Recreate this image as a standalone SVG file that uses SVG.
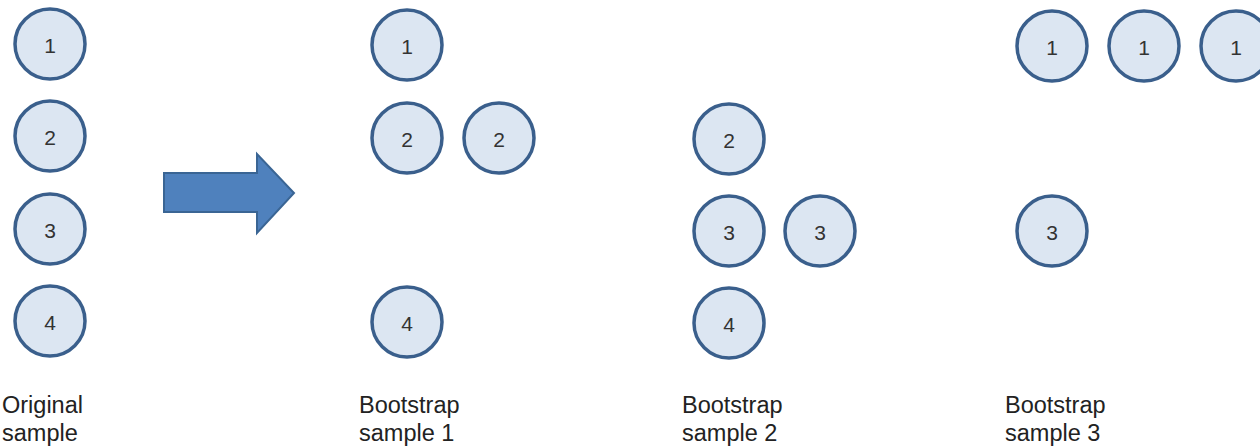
<svg xmlns="http://www.w3.org/2000/svg" width="1260" height="446" viewBox="0 0 1260 446">
<style>
.n circle{fill:#dce6f2;stroke:#3a5f8c;stroke-width:3.5}
.n text{font-family:"Liberation Sans",Arial,sans-serif;font-size:21px;fill:#333;text-anchor:middle;dominant-baseline:central}
.lbl{font-family:"Liberation Sans",Arial,sans-serif;font-size:23.5px;fill:#222}
</style>
<rect width="1260" height="446" fill="#fff"/>
<g id="orig1" class="n"><circle cx="50" cy="44" r="35"/><text x="50" y="45">1</text></g>
<g id="orig2" class="n"><circle cx="50" cy="136" r="35"/><text x="50" y="137">2</text></g>
<g id="orig3" class="n"><circle cx="50" cy="229" r="35"/><text x="50" y="230">3</text></g>
<g id="orig4" class="n"><circle cx="50" cy="321" r="35"/><text x="50" y="322">4</text></g>
<g id="connectors">
<polygon id="arrow" points="164,173 257,173 257,154 294,193 257,233 257,212 164,212" fill="#4f81bd" stroke="#3a6594" stroke-width="2"/>
</g>
<g id="b1_1" class="n"><circle cx="407" cy="45" r="35"/><text x="407" y="46">1</text></g>
<g id="b1_2a" class="n"><circle cx="407" cy="138" r="35"/><text x="407" y="139">2</text></g>
<g id="b1_2b" class="n"><circle cx="499" cy="138" r="35"/><text x="499" y="139">2</text></g>
<g id="b1_4" class="n"><circle cx="407" cy="322" r="35"/><text x="407" y="323">4</text></g>
<g id="b2_2" class="n"><circle cx="729" cy="139" r="35"/><text x="729" y="140">2</text></g>
<g id="b2_3a" class="n"><circle cx="729" cy="231" r="35"/><text x="729" y="232">3</text></g>
<g id="b2_3b" class="n"><circle cx="820" cy="231" r="35"/><text x="820" y="232">3</text></g>
<g id="b2_4" class="n"><circle cx="729" cy="323" r="35"/><text x="729" y="324">4</text></g>
<g id="b3_1a" class="n"><circle cx="1052" cy="46" r="35"/><text x="1052" y="47">1</text></g>
<g id="b3_1b" class="n"><circle cx="1144" cy="46" r="35"/><text x="1144" y="47">1</text></g>
<g id="b3_1c" class="n"><circle cx="1236" cy="46" r="35"/><text x="1236" y="47">1</text></g>
<g id="b3_3" class="n"><circle cx="1052" cy="231" r="35"/><text x="1052" y="232">3</text></g>
<g id="labels">
<text class="lbl" x="2" y="413">Original</text>
<text class="lbl" x="2" y="441">sample</text>
<text class="lbl" x="359" y="413">Bootstrap</text>
<text class="lbl" x="359" y="441">sample 1</text>
<text class="lbl" x="682" y="413">Bootstrap</text>
<text class="lbl" x="682" y="441">sample 2</text>
<text class="lbl" x="1005" y="413">Bootstrap</text>
<text class="lbl" x="1005" y="441">sample 3</text>
</g>
</svg>
